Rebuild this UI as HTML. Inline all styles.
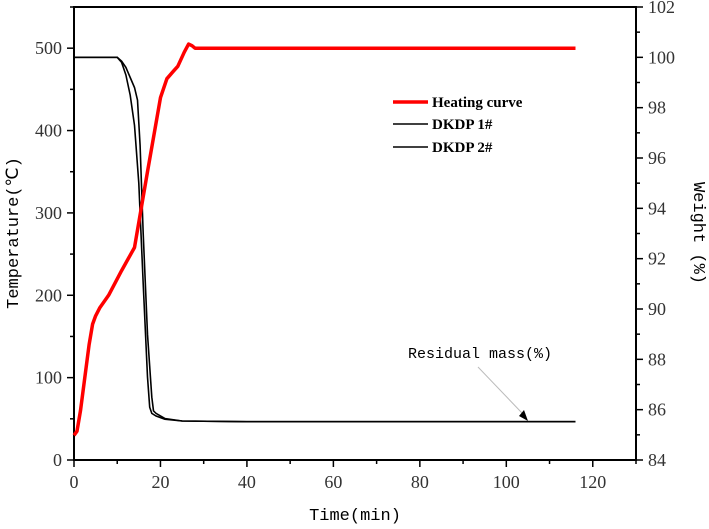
<!DOCTYPE html>
<html><head><meta charset="utf-8"><style>
body{margin:0;background:#fff}
svg text{font-family:"Liberation Serif",serif}
.cjk{font-family:"Liberation Mono","WenQuanYi Zen Hei",monospace}
</style></head><body>
<svg id="c" width="709" height="524" xmlns="http://www.w3.org/2000/svg"></svg>
<script>
const xTicks=[0,20,40,60,80,100,120];
const tTicks=[0,100,200,300,400,500];
const wTicks=[84,86,88,90,92,94,96,98,100,102];
const heatT=[0,0.7,1.5,2.5,3.5,4.3,5,6,8,11,14,17,20,21.5,23,24,25.5,26.5,27.3,28,40,60,80,100,116];
const heatV=[30,35,60,100,140,165,175,185,200,230,258,350,440,463,472,478,495,505,503,500,500,500,500,500,500];
const w1T=[0,10,11,12,13,14,15,16,17,17.5,18,19,21,25,40,80,116];
const w1V=[100,100,99.8,99.3,98.5,97.3,95,91,87.3,86.1,85.85,85.75,85.62,85.55,85.52,85.52,85.52];
const w2T=[0,10,11,12,13,14,14.7,15.3,16,17,18,18.4,19,21,25,40,80,116];
const w2V=[100,100,99.85,99.6,99.2,98.8,98.3,96.5,93,89,86.5,85.95,85.85,85.65,85.55,85.52,85.52,85.52];
const L=74,R=636,T=7,B=460;
const X=v=>L+v*(R-L)/130;
const YT=v=>B-v*(B-T)/550;
const YW=v=>B-(v-84)*(B-T)/18;
const s=document.getElementById('c');
const NS='http://www.w3.org/2000/svg';
function el(t,a,txt){const e=document.createElementNS(NS,t);for(const k in a)e.setAttribute(k,a[k]);if(txt!==undefined)e.textContent=txt;s.appendChild(e);return e;}
let e;
e=el('rect',{x:L,y:T,width:R-L,height:B-T,fill:'none',stroke:'#000','stroke-width':2});


xTicks.forEach((v,i)=>{
 e=el('line',{x1:X(v),x2:X(v),y1:B,y2:B+7,stroke:'#000','stroke-width':1.5});
 
 e=el('line',{x1:X(v+10),x2:X(v+10),y1:B,y2:B+4,stroke:'#000','stroke-width':1.5});
 
 e=el('text',{x:X(v),y:B+28,'text-anchor':'middle','font-size':18,fill:'#333'},v);
 
});
tTicks.forEach(v=>{
 e=el('line',{x1:L-7,x2:L,y1:YT(v),y2:YT(v),stroke:'#000','stroke-width':1.5});
 
 e=el('line',{x1:L-4,x2:L,y1:YT(v+50),y2:YT(v+50),stroke:'#000','stroke-width':1.5});
 
 e=el('text',{x:L-12,y:YT(v)+6,'text-anchor':'end','font-size':18,fill:'#333'},v);
 
});
wTicks.forEach(v=>{
 e=el('line',{x1:R,x2:R+7,y1:YW(v),y2:YW(v),stroke:'#000','stroke-width':1.5});
 
 if(v<102){e=el('line',{x1:R,x2:R+4,y1:YW(v+1),y2:YW(v+1),stroke:'#000','stroke-width':1.5});
 }
 e=el('text',{x:R+12,y:YW(v)+6,'font-size':18,fill:'#333'},v);
 
});
function path(ts,vs,fy){return ts.map((t,i)=>(i?'L':'M')+X(t).toFixed(1)+','+fy(vs[i]).toFixed(1)).join('');}
e=el('path',{d:path(w1T,w1V,YW),fill:'none',stroke:'#000','stroke-width':1.6});

e=el('path',{d:path(w2T,w2V,YW),fill:'none',stroke:'#000','stroke-width':1.6});

e=el('path',{d:path(heatT,heatV,YT),fill:'none',stroke:'#f00','stroke-width':3.5,'stroke-linejoin':'round'});

const leg=[['Heating curve','#f00',3.5,102],['DKDP 1#','#000',1.6,124],['DKDP 2#','#000',1.6,147]];
leg.forEach(l=>{
 e=el('line',{x1:393,x2:428,y1:l[3],y2:l[3],stroke:l[1],'stroke-width':l[2]});
 
 e=el('text',{x:432,y:l[3]+5,'font-size':15,'font-weight':'bold'},l[0]);
 
});
e=el('line',{x1:478,y1:367,x2:522,y2:413,stroke:'#bbb','stroke-width':1});

e=el('polygon',{points:'528,421 519,416 524,410',fill:'#000'});

e=el('text',{x:408,y:358,'font-size':15,class:'cjk'},'Residual mass(%)');

e=el('text',{x:355,y:520,'text-anchor':'middle','font-size':17,class:'cjk'},'Time(min)');

e=el('text',{x:0,y:0,'text-anchor':'middle','font-size':17,class:'cjk',transform:'translate(18,233) rotate(-90)'},'Temperature(℃)');

e=el('text',{x:0,y:0,'text-anchor':'middle','font-size':17,class:'cjk',transform:'translate(694,233) rotate(90)'},'Weight (%)');

</script>
</body></html>
